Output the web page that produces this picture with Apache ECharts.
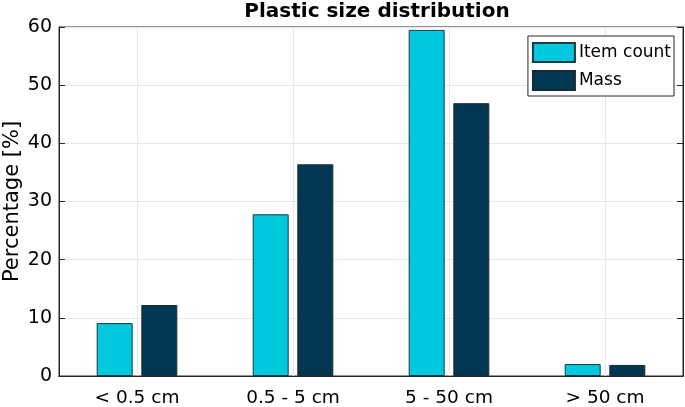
<!DOCTYPE html>
<html><head><meta charset="utf-8">
<script src="https://cdn.jsdelivr.net/npm/echarts@6/dist/echarts.min.js"></script>
<style>html,body{margin:0;padding:0;background:#fff}#c{width:685px;height:407px}</style>
</head><body><div id="c"></div>
<script>
const categories = ['< 0.5 cm', '0.5 - 5 cm', '5 - 50 cm', '> 50 cm'];
const itemCount = [9.1, 27.8, 59.5, 2.05];
const mass = [12.2, 36.4, 46.9, 1.9];
const yTicks = [0, 10, 20, 30, 40, 50, 60];

const font = 'DejaVu Sans, Verdana, sans-serif';
const axisColor = '#262626';
const gridColor = '#e8e8e8';
const chart = echarts.init(document.getElementById('c'));
chart.setOption({
  animation: false,
  title: {
    text: 'Plastic size distribution', left: 372, top: -3, textAlign: 'center',
    textStyle: { fontFamily: font, fontSize: 20, fontWeight: 'bold', color: '#000' }
  },
  legend: {
    orient: 'vertical', right: 11, top: 36, itemWidth: 42, itemHeight: 19, itemGap: 7,
    padding: [6, 3, 5, 4], backgroundColor: '#fff', borderColor: axisColor, borderWidth: 1,
    borderRadius: 0,
    textStyle: { fontFamily: font, fontSize: 17, color: '#000', padding: [0, 0, 0, -1] },
    data: [{ name: 'Item count', icon: 'rect' }, { name: 'Mass', icon: 'rect' }]
  },
  grid: { left: 59, right: 2, top: 27, bottom: 31, containLabel: false, outerBoundsMode: 'none',
          show: true, borderColor: axisColor, borderWidth: 1 },
  xAxis: [{
    type: 'category', data: categories, position: 'bottom',
    axisLine: { lineStyle: { color: axisColor } },
    axisTick: { alignWithLabel: true, inside: true, length: 6, lineStyle: { color: axisColor } },
    splitLine: { show: true, alignWithLabel: true, lineStyle: { color: gridColor } },
    axisLabel: { fontFamily: font, fontSize: 18.5, color: '#000', margin: 13 }
  }, {
    type: 'category', data: categories, position: 'top',
    axisLine: { lineStyle: { color: axisColor } },
    axisTick: { alignWithLabel: true, inside: true, length: 6, lineStyle: { color: axisColor } },
    axisLabel: { show: false }
  }],
  yAxis: [{
    type: 'value', min: 0, max: 60, interval: 10, position: 'left',
    name: 'Percentage [%]', nameLocation: 'middle', nameGap: 36, nameMoveOverlap: false,
    nameTextStyle: { fontFamily: font, fontSize: 21, color: '#000' },
    axisLine: { show: true, lineStyle: { color: axisColor } },
    axisTick: { show: true, inside: true, length: 6, lineStyle: { color: axisColor } },
    splitLine: { show: true, lineStyle: { color: gridColor } },
    axisLabel: { fontFamily: font, fontSize: 19, color: '#000', margin: 7 }
  }, {
    type: 'value', min: 0, max: 60, interval: 10, position: 'right',
    axisLine: { show: true, lineStyle: { color: axisColor } },
    axisTick: { show: true, inside: true, length: 6, lineStyle: { color: axisColor } },
    splitLine: { show: false },
    axisLabel: { show: false }
  }],
  series: [{
    name: 'Item count', type: 'bar', data: itemCount, barWidth: 36, barGap: '24%',
    itemStyle: { color: '#00C8DD', borderColor: '#1a3a44', borderWidth: 1 }
  }, {
    name: 'Mass', type: 'bar', data: mass, barWidth: 36,
    itemStyle: { color: '#023754', borderColor: '#1a2a33', borderWidth: 1 }
  }]
});
</script></body></html>
